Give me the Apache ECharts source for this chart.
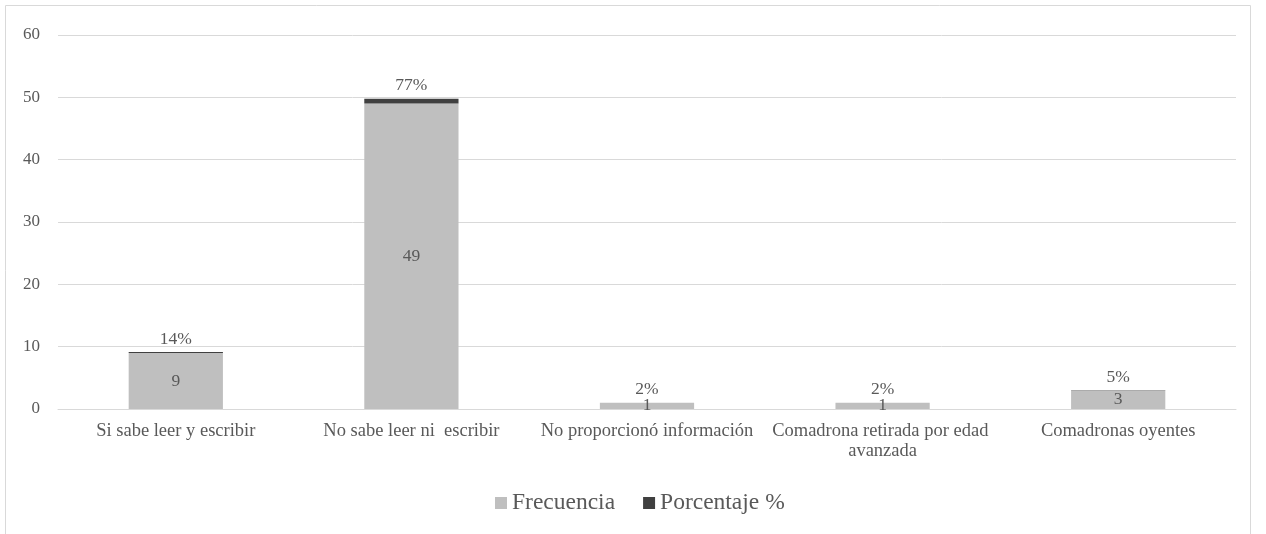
<!DOCTYPE html>
<html>
<head>
<meta charset="utf-8">
<script src="https://cdn.jsdelivr.net/npm/echarts@6/dist/echarts.min.js"></script>
<style>
  html, body { margin: 0; padding: 0; background: #fff; }
  #chart { width: 1266px; height: 534px; }
</style>
</head>
<body>
<div id="chart"></div>
<script>
// Categories on the x axis
const categories = [
  'Si sabe leer y escribir',
  'No sabe leer ni  escribir',
  'No proporcionó información',
  'Comadrona retirada por edad avanzada',
  'Comadronas oyentes'
];
// Count of midwives per category
const frecuencia = [9, 49, 1, 1, 3];
// Share of the total, in percent
const porcentaje = [14, 77, 2, 2, 5];
// Y axis ticks
const yTicks = [0, 10, 20, 30, 40, 50, 60];

const FONT = '"Liberation Serif", "Times New Roman", serif';
const TEXT = '#595959';
const LINE = '#d9d9d9';

const chart = echarts.init(document.getElementById('chart'));
chart.setOption({
  animation: false,
  textStyle: { fontFamily: FONT },
  graphic: [{
    type: 'rect',
    shape: { x: 5.5, y: 5.5, width: 1245, height: 620 },
    style: { fill: 'none', stroke: LINE, lineWidth: 1 },
    silent: true
  }],
  grid: { left: 58, right: 30, top: 35, bottom: 125 },
  legend: {
    top: 486,
    left: 490,
    itemWidth: 12,
    itemHeight: 12,
    itemGap: 28,
    icon: 'rect',
    textStyle: { fontFamily: FONT, fontSize: 23.5, color: TEXT },
    data: ['Frecuencia', 'Porcentaje %']
  },
  xAxis: {
    type: 'category',
    data: categories,
    axisLine: { lineStyle: { color: LINE, width: 1 } },
    axisTick: { show: false },
    axisLabel: {
      color: TEXT,
      fontFamily: FONT,
      fontSize: 18.5,
      margin: 12,
      interval: 0,
      width: 248,
      overflow: 'break',
      lineHeight: 20
    }
  },
  yAxis: {
    type: 'value',
    min: yTicks[0],
    max: yTicks[yTicks.length - 1],
    interval: 10,
    axisLine: { show: false },
    axisTick: { show: false },
    splitLine: { lineStyle: { color: LINE, width: 1 } },
    axisLabel: { color: TEXT, fontFamily: FONT, fontSize: 17, margin: 18 }
  },
  series: [
    {
      name: 'Frecuencia',
      type: 'bar',
      stack: 'total',
      barWidth: '40%',
      itemStyle: { color: '#bfbfbf' },
      label: {
        show: true,
        position: 'inside',
        color: TEXT,
        fontFamily: FONT,
        fontSize: 17.5
      },
      data: frecuencia
    },
    {
      name: 'Porcentaje %',
      type: 'bar',
      stack: 'total',
      barWidth: '40%',
      itemStyle: { color: '#404040' },
      label: {
        show: true,
        position: 'top',
        distance: 4,
        color: TEXT,
        fontFamily: FONT,
        fontSize: 17.5,
        formatter: p => porcentaje[p.dataIndex] + '%'
      },
      data: porcentaje.map(v => v / 100)
    }
  ]
});
</script>
</body>
</html>
